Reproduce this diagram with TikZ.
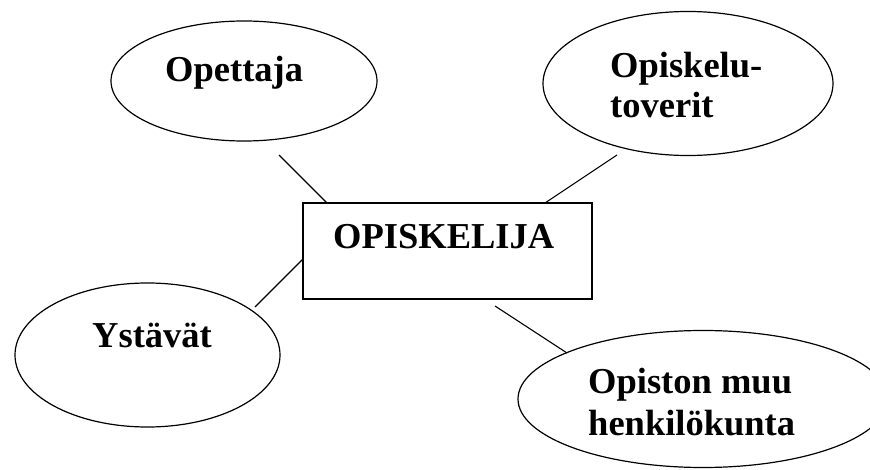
\documentclass[tikz,border=0pt]{standalone}
\usepackage{fontspec}
\setmainfont{Liberation Serif}
\usetikzlibrary{shapes.geometric}
\begin{document}
\begin{tikzpicture}[x=1pt,y=-1pt,
  oval/.style={ellipse, draw, line width=1.2pt, inner sep=0pt},
  boxnode/.style={rectangle, draw, line width=1.2pt, inner sep=0pt},
  lbl/.style={anchor=base west, inner sep=0pt, font=\bfseries\fontsize{36.5}{41}\selectfont},
  link/.style={line width=1.1pt}]
\useasboundingbox (0,0) rectangle (870,470);
\clip (0,0) rectangle (870,470);
\fill[white] (0,0) rectangle (870,470);
% shapes
\node[oval, minimum width=266pt, minimum height=120pt] (ope) at (244,81) {};
\node[oval, minimum width=290pt, minimum height=144pt] (tov) at (688,83.5) {};
\node[oval, minimum width=265pt, minimum height=144pt] (yst) at (147.5,355) {};
\node[oval, minimum width=370pt, minimum height=137pt] (hen) at (703,399) {};
\node[boxnode, minimum width=289pt, minimum height=96pt] (opi) at (447.5,251) {};
% labels
\node[lbl] (tope) at (165,82) {Opettaja};
\node[lbl] (ttov1) at (610,78) {Opiskelu-};
\node[lbl] (ttov2) at (610,118) {toverit};
\node[lbl] (topi) at (333,249) {OPISKELIJA};
\node[lbl] (tyst) at (92,347) {Ystävät};
\node[lbl] (then1) at (588,393) {Opiston muu};
\node[lbl] (then2) at (588,435) {henkilökunta};
% connector end points
\coordinate (a1) at (279,155);
\coordinate (a2) at (327,203);
\coordinate (b1) at (617,155);
\coordinate (b2) at (545,203);
\coordinate (c1) at (303,259);
\coordinate (c2) at (255,307);
\coordinate (d1) at (495,306);
\coordinate (d2) at (567,353);
\draw[link] (a1) -- (a2);
\draw[link] (b1) -- (b2);
\draw[link] (c1) -- (c2);
\draw[link] (d1) -- (d2);
\end{tikzpicture}
\end{document}
